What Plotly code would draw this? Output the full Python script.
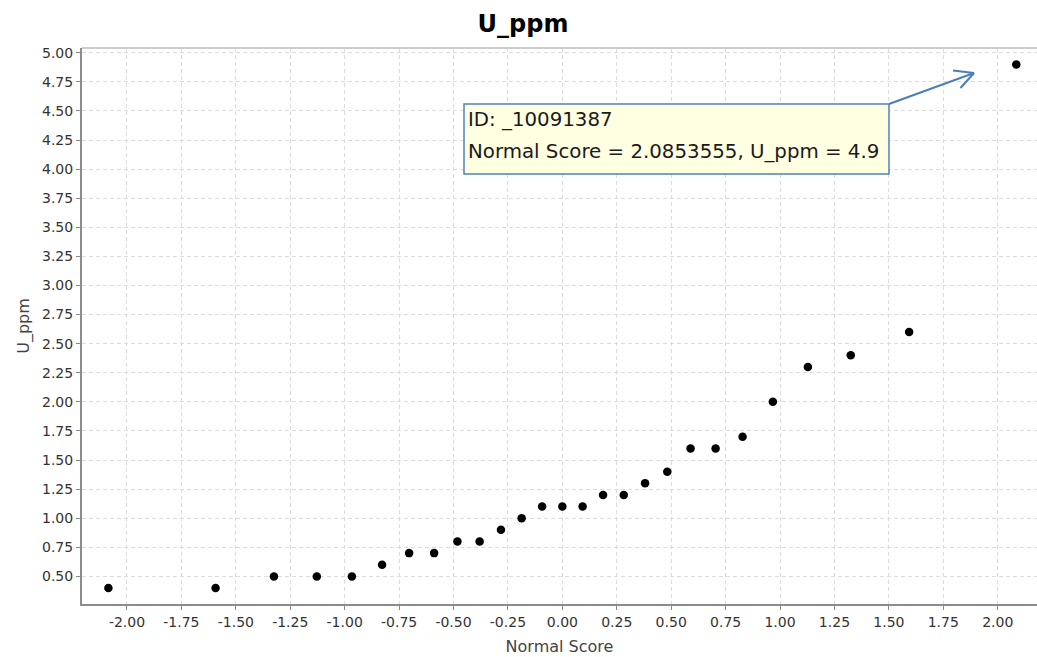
import plotly.graph_objects as go

# ---- data ----
normal_score = [-2.0853555, -1.593, -1.325, -1.128, -0.967, -0.828, -0.704, -0.589,
                -0.482, -0.380, -0.282, -0.187, -0.093, 0.0, 0.093, 0.187, 0.282,
                0.380, 0.482, 0.589, 0.704, 0.828, 0.967, 1.128, 1.325, 1.593, 2.0853555]
u_ppm = [0.4, 0.4, 0.5, 0.5, 0.5, 0.6, 0.7, 0.7, 0.8, 0.8, 0.9, 1.0, 1.1, 1.1, 1.1,
         1.2, 1.2, 1.3, 1.4, 1.6, 1.6, 1.7, 2.0, 2.3, 2.4, 2.6, 4.9]

x_tick_vals = [-2.0, -1.75, -1.5, -1.25, -1.0, -0.75, -0.5, -0.25, 0.0, 0.25, 0.5,
               0.75, 1.0, 1.25, 1.5, 1.75, 2.0]
x_tick_text = ["-2.00", "-1.75", "-1.50", "-1.25", "-1.00", "-0.75", "-0.50", "-0.25",
               "0.00", "0.25", "0.50", "0.75", "1.00", "1.25", "1.50", "1.75", "2.00"]
y_tick_vals = [0.5, 0.75, 1.0, 1.25, 1.5, 1.75, 2.0, 2.25, 2.5, 2.75, 3.0, 3.25, 3.5,
               3.75, 4.0, 4.25, 4.5, 4.75, 5.0]
y_tick_text = ["0.50", "0.75", "1.00", "1.25", "1.50", "1.75", "2.00", "2.25", "2.50",
               "2.75", "3.00", "3.25", "3.50", "3.75", "4.00", "4.25", "4.50", "4.75",
               "5.00"]

tooltip_lines = ["ID: _10091387", "Normal Score = 2.0853555, U_ppm = 4.9"]

# ---- layout geometry (pixels) ----
W, H = 1037, 657
ML, MR, MT, MB = 82, 0, 48, 53
PW, PH = W - ML - MR, H - MT - MB


def px(x):
    return (x - ML) / PW


def py(y):
    return (H - MB - y) / PH


fig = go.Figure()
fig.add_trace(go.Scatter(
    x=normal_score, y=u_ppm, mode="markers",
    marker=dict(color="black", size=8.5, line=dict(width=0)),
    showlegend=False, hoverinfo="x+y"))

tick_font = dict(family="DejaVu Sans", size=14, color="#333333")
axis_title_font = dict(family="DejaVu Sans", size=16, color="#444444")

fig.update_layout(
    width=W, height=H,
    margin=dict(l=ML, r=MR, t=MT, b=MB, pad=0),
    paper_bgcolor="white", plot_bgcolor="white",
    title=dict(text="<b>U_ppm</b>", x=523 / W, xanchor="center",
               y=1 - 24 / H, yanchor="middle",
               font=dict(family="DejaVu Sans", size=24, color="black")),
    xaxis=dict(range=[-2.2067, 2.1805], tickmode="array", tickvals=x_tick_vals,
               ticktext=x_tick_text, tickfont=tick_font, ticks="outside", ticklen=4,
               tickcolor="#888888", tickwidth=1,
               showline=True, linecolor="#8c8c8c", linewidth=2,
               showgrid=True, gridcolor="#dcdcdc", gridwidth=1, griddash="4px,3px",
               zeroline=False,
               title=dict(text="Normal Score", font=axis_title_font, standoff=12)),
    yaxis=dict(range=[0.2627, 5.041], tickmode="array", tickvals=y_tick_vals,
               ticktext=y_tick_text, tickfont=tick_font, ticks="outside", ticklen=4,
               tickcolor="#888888", tickwidth=1,
               showline=True, linecolor="#8c8c8c", linewidth=2,
               showgrid=True, gridcolor="#dcdcdc", gridwidth=1, griddash="4px,3px",
               zeroline=False,
               title=dict(text="U_ppm", font=axis_title_font, standoff=8)),
)

# top border of the plot area
fig.add_shape(type="line", xref="paper", yref="paper", x0=0, x1=1, y0=1, y1=1,
              line=dict(color="#cccccc", width=2))

# tooltip box
fig.add_shape(type="rect", xref="paper", yref="paper",
              x0=px(464), x1=px(889), y0=py(174), y1=py(104),
              fillcolor="#ffffe1", line=dict(color="#4f81bd", width=1.5))
for txt, yc in zip(tooltip_lines, [120, 152]):
    fig.add_annotation(text=txt, xref="paper", yref="paper", x=px(466), y=py(yc),
                       xanchor="left", yanchor="middle", showarrow=False,
                       font=dict(family="DejaVu Sans", size=19.8, color="#1a1a1a"))

# arrow from tooltip to the point
arrow_col = "#4a7ebb"
fig.add_shape(type="line", xref="paper", yref="paper",
              x0=px(889), y0=py(104), x1=px(974), y1=py(73),
              line=dict(color=arrow_col, width=2))
fig.add_shape(type="line", xref="paper", yref="paper",
              x0=px(974), y0=py(73), x1=px(953), y1=py(70.5),
              line=dict(color=arrow_col, width=2))
fig.add_shape(type="line", xref="paper", yref="paper",
              x0=px(974), y0=py(73), x1=px(960.5), y1=py(88),
              line=dict(color=arrow_col, width=2))

fig.write_html("out.html")
